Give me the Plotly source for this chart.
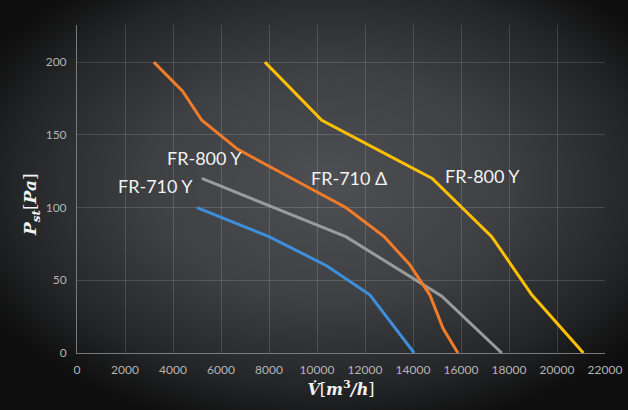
import base64
import plotly.graph_objects as go

# ---- data ----
fr710y_x = [5000, 8000, 10400, 12200, 14050]
fr710y_y = [100, 80, 60, 40, 0]

fr800y_gray_x = [5200, 11200, 15200, 17700]
fr800y_gray_y = [120, 80, 39, 0]

fr710d_x = [3200, 4400, 5200, 6700, 11200, 12800, 13850, 14700, 15250, 15870]
fr710d_y = [200, 180, 160, 140, 100, 80, 61, 40, 17, 0]

fr800y_x = [7830, 10200, 14800, 17280, 18950, 21100]
fr800y_y = [200, 160, 120, 80, 40, 0]

x_ticks = [0, 2000, 4000, 6000, 8000, 10000, 12000, 14000, 16000, 18000, 20000, 22000]
y_ticks = [0, 50, 100, 150, 200]

labels = ["FR-800 Y", "FR-710 Y", "FR-710 Δ", "FR-800 Y"]
label_x = [5330, 3290, 11330, 16900]
label_y = [134, 114.5, 120, 121.5]

colors = {"blue": "#3d8fdb", "gray": "#9b9b9b", "orange": "#f07c2a", "yellow": "#ffc000"}

# ---- background radial gradient ----
svg = (
    '<svg xmlns="http://www.w3.org/2000/svg" width="628" height="410" viewBox="0 0 628 410" preserveAspectRatio="none">'
    '<defs><radialGradient id="g" cx="52%" cy="45%" r="62%" gradientUnits="objectBoundingBox">'
    '<stop offset="0%" stop-color="#4d4f52"/>'
    '<stop offset="45%" stop-color="#3e4043"/>'
    '<stop offset="80%" stop-color="#242527"/>'
    '<stop offset="100%" stop-color="#0e0e0e"/>'
    '</radialGradient></defs>'
    '<rect width="628" height="410" fill="url(#g)"/></svg>'
)
bg_src = "data:image/svg+xml;base64," + base64.b64encode(svg.encode()).decode()

fig = go.Figure()
for xs, ys, c in [
    (fr710y_x, fr710y_y, colors["blue"]),
    (fr800y_gray_x, fr800y_gray_y, colors["gray"]),
    (fr710d_x, fr710d_y, colors["orange"]),
    (fr800y_x, fr800y_y, colors["yellow"]),
]:
    fig.add_trace(go.Scatter(x=xs, y=ys, mode="lines", line=dict(color=c, width=3), showlegend=False, hoverinfo="skip"))

for t, x, y in zip(labels, label_x, label_y):
    fig.add_annotation(x=x, y=y, text=t, showarrow=False, xref="x", yref="y",
                       font=dict(family="Lato, Noto Sans, sans-serif", size=18, color="#f2f2f2"))

L, R, T, B = 77, 23, 25, 57
W, H = 628, 410
pw, ph = W - L - R, H - T - B

# y-axis title placed as rotated annotation
fig.add_annotation(x=(31 - L) / pw, y=(H - B - 205) / ph, xref="paper", yref="paper",
                   text="<b><i>P</i></b><sub><b><i>st</i></b></sub>[<b><i>Pa</i></b>]",
                   textangle=-90, showarrow=False, xanchor="center", yanchor="middle",
                   font=dict(family="DejaVu Serif, Liberation Serif, serif", size=17, color="#f2f2f2"))

fig.add_layout_image(dict(source=bg_src, xref="paper", yref="paper",
                          x=-L / pw, y=1 + T / ph, sizex=W / pw, sizey=H / ph,
                          xanchor="left", yanchor="top", sizing="stretch", layer="below"))

tickfont = dict(family="Lato, Noto Sans, sans-serif", size=12, color="#b4b4b4")
fig.update_layout(
    width=W, height=H,
    margin=dict(l=L, r=R, t=T, b=B, autoexpand=False),
    paper_bgcolor="#2a2b2d",
    plot_bgcolor="rgba(0,0,0,0)",
    xaxis=dict(range=[0, 22000], tickvals=x_ticks, ticktext=[str(v) for v in x_ticks],
               automargin=False,
               showgrid=True, gridcolor="rgba(255,255,255,0.14)", gridwidth=1,
               zeroline=False, showline=True, linecolor="#7a7a7a", linewidth=1,
               ticks="", tickfont=tickfont, ticklabelstandoff=6,
               title=dict(text="<b><i>V̇</i></b>[<b><i>m</i></b><sup><b>3</b></sup><b><i>/h</i></b>]",
                          font=dict(family="DejaVu Serif, Liberation Serif, serif", size=16, color="#f2f2f2"),
                          standoff=7)),
    yaxis=dict(range=[0, 225.5], tickvals=y_ticks, showgrid=True,
               automargin=False,
               gridcolor="rgba(255,255,255,0.14)", gridwidth=1,
               zeroline=False, showline=True, linecolor="#7a7a7a", linewidth=1,
               ticks="", tickfont=tickfont, ticklabelstandoff=7),
)

fig.write_html("out.html", config={"displayModeBar": False},
               post_script="document.body.style.margin='0px';document.body.style.overflow='hidden';")
